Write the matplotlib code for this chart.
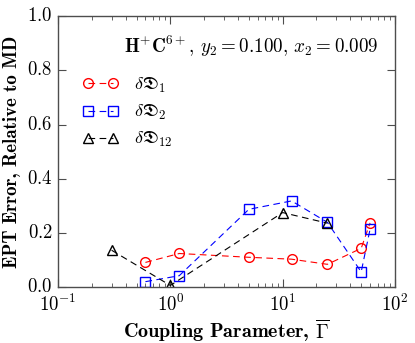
import numpy as np
import matplotlib
matplotlib.use('Agg')
import matplotlib.pyplot as plt

# ============================================================================
# data
# ============================================================================
gamma_1 = [0.6, 1.2, 5.0, 12.0, 25.0, 50.0, 60.0]
err_1 = [0.091, 0.124, 0.110, 0.103, 0.084, 0.143, 0.237]

gamma_2 = [0.6, 1.2, 5.0, 12.0, 25.0, 50.0, 60.0]
err_2 = [0.020, 0.042, 0.287, 0.318, 0.239, 0.056, 0.214]

gamma_12 = [0.3, 1.0, 10.0, 25.0]
err_12 = [0.136, 0.006, 0.275, 0.236]

labels = [r'$\delta\mathfrak{D}_1$', r'$\delta\mathfrak{D}_2$', r'$\delta\mathfrak{D}_{12}$']

# ============================================================================
# style
# ============================================================================
plt.rcParams['font.family'] = 'serif'
plt.rcParams['font.serif'] = ['cmr10', 'DejaVu Serif']
plt.rcParams['mathtext.fontset'] = 'cm'
plt.rcParams['axes.formatter.use_mathtext'] = True
plt.rcParams['axes.unicode_minus'] = True

fig = plt.figure(figsize=(4.15, 3.43), dpi=100)
ax = fig.add_axes([0.1398, 0.163, 0.812, 0.79])

ax.plot(gamma_1, err_1, lw=0.8, color='red', marker='o', ms=7,
        mfc='none', mec='red', mew=1.0, label=labels[0], dashes=(6, 4))
ax.plot(gamma_2, err_2, lw=0.8, color='blue', marker='s', ms=7,
        mfc='none', mec='blue', mew=1.0, label=labels[1], dashes=(6, 4))
ax.plot(gamma_12, err_12, lw=0.8, color='black', marker='^', ms=7,
        mfc='none', mec='black', mew=1.0, label=labels[2], dashes=(6, 4))

ax.set_xscale('log')
ax.set_xlim(0.1, 100)
ax.set_ylim(0.0, 1.0)
ax.set_yticks(np.arange(0, 1.01, 0.2))

ax.tick_params(which='both', direction='in', top=True, right=True,
               labelsize=13.5)
ax.tick_params(axis='x', pad=5)
ax.tick_params(axis='y', pad=4)
ax.tick_params(which='major', length=6, width=0.8, color='0.3')
ax.tick_params(which='minor', length=3, width=0.6, color='0.3')
for sp in ax.spines.values():
    sp.set_color('0.3')
    sp.set_linewidth(1.0)
for lbl in ax.get_yticklabels():
    lbl.set_verticalalignment('center')

ax.set_xlabel(r'Coupling Parameter, $\overline{\Gamma}$', fontsize=14.5,
              family='cmb10', labelpad=1)
ax.set_ylabel('EPT Error, Relative to MD', fontsize=13.6, family='cmb10',
              labelpad=4)

ax.text(0.95, 0.887, r'$\mathbf{H}^{+}\mathbf{C}^{6+}$, $y_2 = 0.100$, $x_2 = 0.009$',
        transform=ax.transAxes, ha='right', va='center', fontsize=13.7)

leg = ax.legend(loc='upper left', bbox_to_anchor=(0.05, 0.807), frameon=False,
                numpoints=2, fontsize=13, handlelength=2.0, labelspacing=0.45,
                handletextpad=0.9, borderaxespad=0.0)

fig.savefig('out.png', dpi=100)
